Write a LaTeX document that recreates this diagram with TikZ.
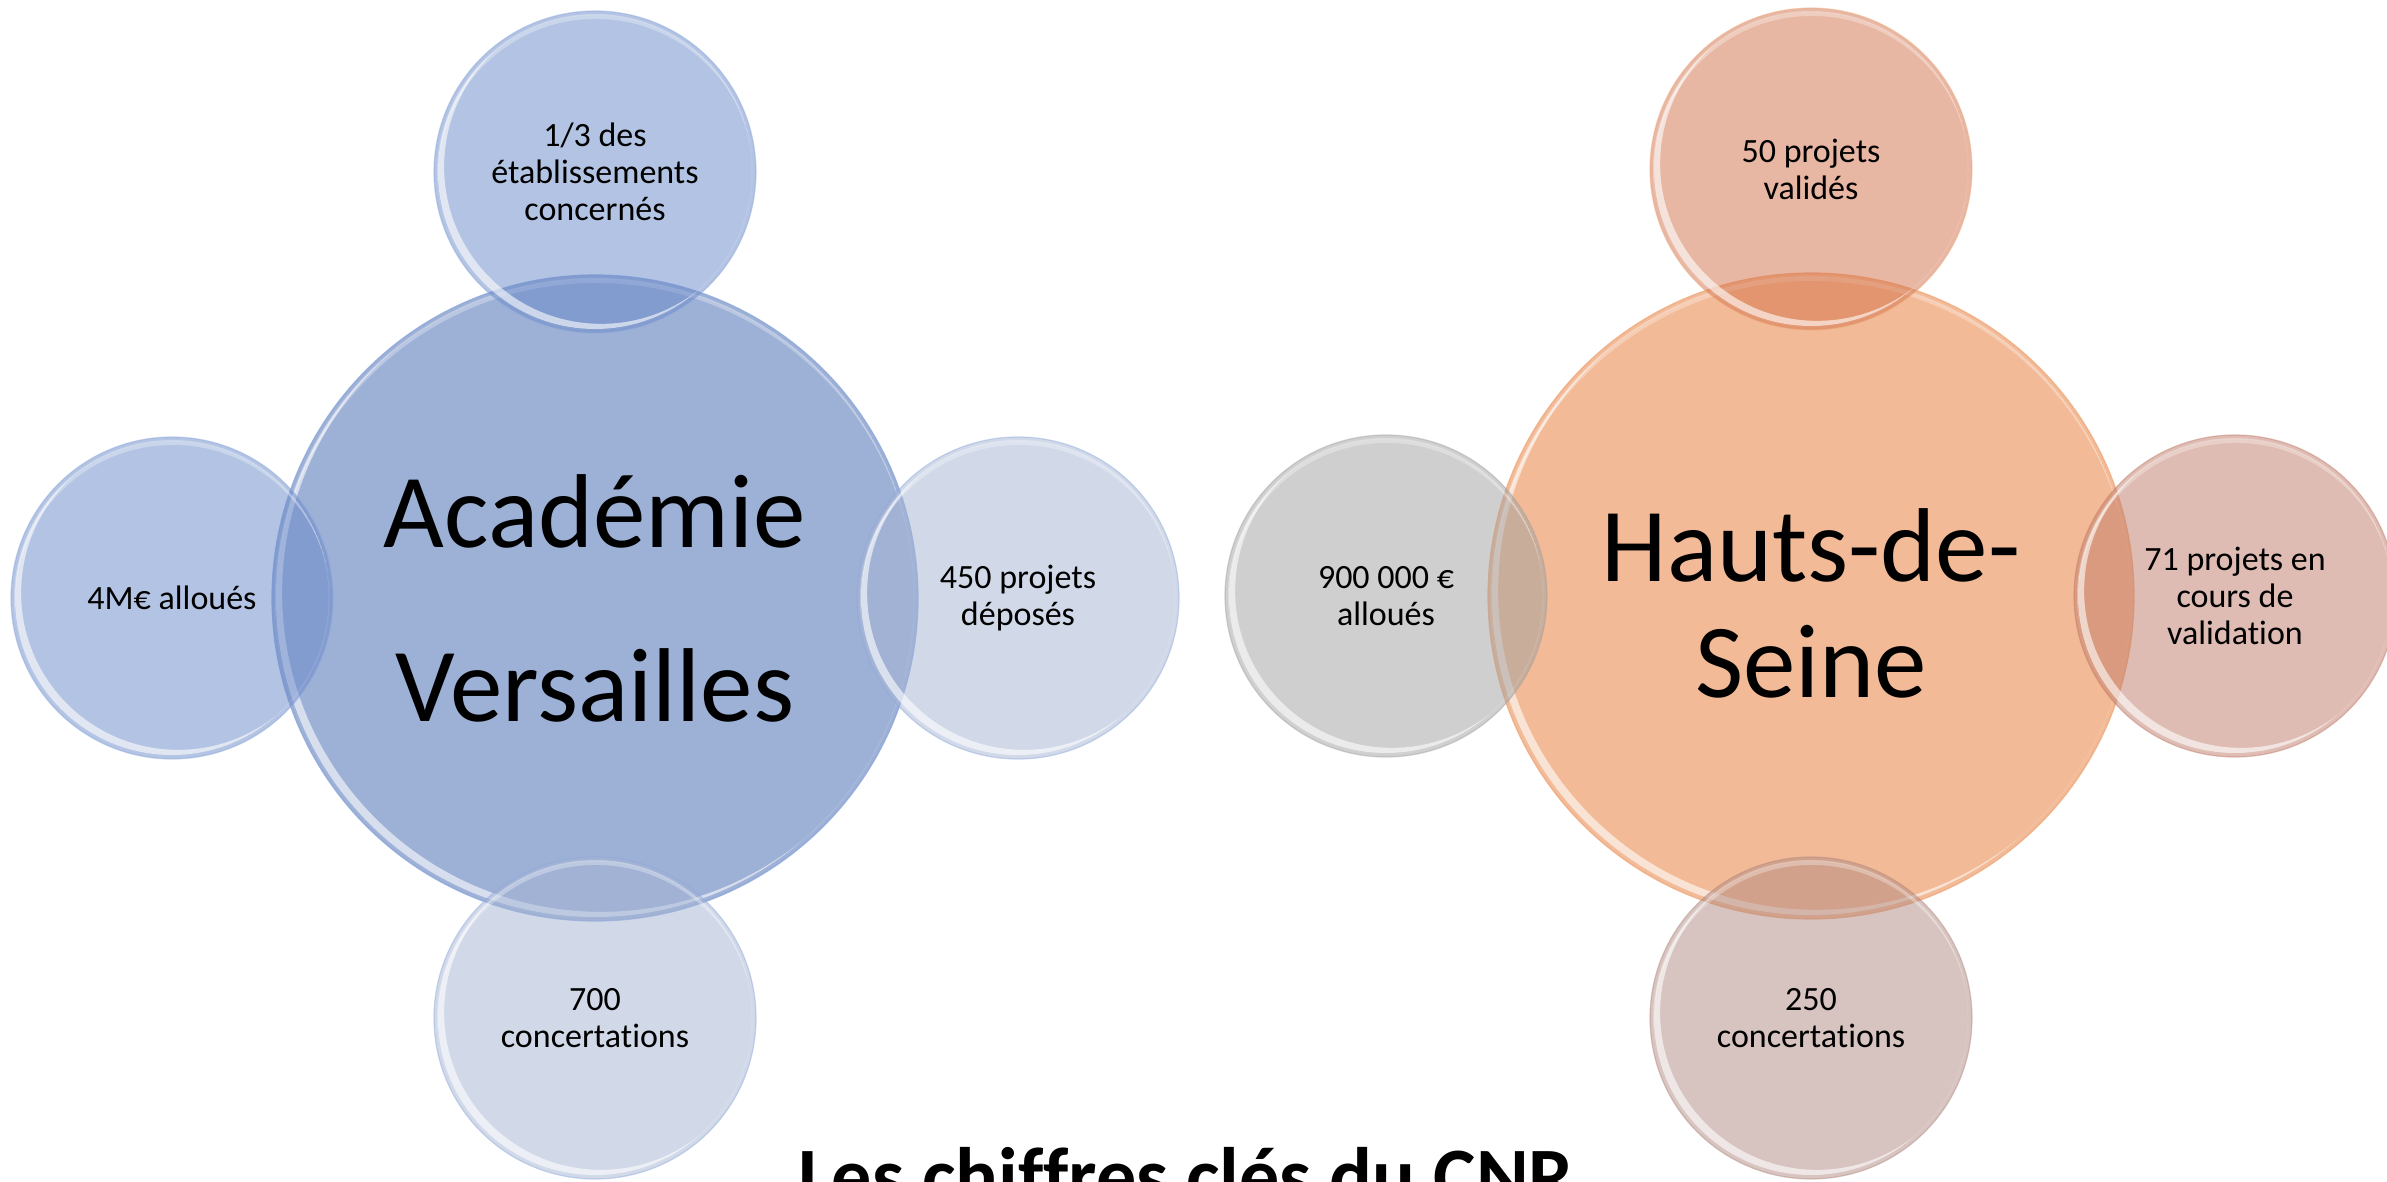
\documentclass[tikz,border=0pt]{standalone}
\usepackage{fontspec}
\setmainfont{Carlito}[Ligatures=NoCommon]
\definecolor{mainA}{RGB}{157,176,214}
\definecolor{satA1}{RGB}{105,137,201}
\definecolor{satA2}{RGB}{165,181,213}
\definecolor{lineA}{RGB}{140,168,220}
\definecolor{mainB}{RGB}{242,186,150}
\definecolor{satB1}{RGB}{211,113,73}
\definecolor{satB2}{RGB}{161,161,161}
\definecolor{satB3}{RGB}{193,123,105}
\definecolor{satB4}{RGB}{177,137,129}
\definecolor{lineB}{RGB}{240,170,125}
\newcommand\glossy[2]{%
  \begin{scope}
    \clip (#1.center) circle[radius=#2-4];
    \fill[white,fill opacity=.6,even odd rule] (#1.center) circle[radius=#2-4] ([shift={(40:8)}]#1.center) circle[radius=#2-4];
  \end{scope}
  \begin{scope}
    \clip (#1.center) circle[radius=#2-3];
    \fill[white,fill opacity=.3,even odd rule] (#1.center) circle[radius=#2-3] ([shift={(-80:5)}]#1.center) circle[radius=#2-3];
  \end{scope}}
\begin{document}
\begin{tikzpicture}[x=1pt,y=1pt,
  hub/.style={circle, minimum size=646pt, inner sep=0pt, align=center,
    font=\fontsize{105}{116}\selectfont, line width=1.2pt, draw opacity=.8},
  sat/.style={circle, minimum size=322pt, inner sep=0pt, align=center,
    font=\fontsize{34}{37}\selectfont, fill opacity=.5, text opacity=1,
    draw opacity=.45, line width=1.2pt},
  titlestyle/.style={font=\fontsize{80}{96}\selectfont\bfseries, anchor=base, inner sep=0pt}]
\useasboundingbox (0,0) rectangle (2387,1181);
\clip (0,0) rectangle (2387,1181);
\fill[white] (0,0) rectangle (2387,1181);

% ---- Académie Versailles ----
\node[hub, fill=mainA, draw=lineA] (va) at (595,583) {Académie\\[58pt]Versailles};
\glossy{va}{323}
\node[sat, fill=satA1, draw=lineA] (vatop) at (595,1009) {1/3 des\\établissements\\concernés};
\glossy{vatop}{161}
\node[sat, fill=satA1, draw=lineA] (valeft) at (172,583) {4M€ alloués};
\glossy{valeft}{161}
\node[sat, fill=satA2, draw=lineA] (varight) at (1018,583) {450 projets\\déposés};
\glossy{varight}{161}
\node[sat, fill=satA2, draw=lineA] (vabot) at (595,163) {700\\concertations};
\glossy{vabot}{161}

% ---- Hauts-de-Seine ----
\node[hub, fill=mainB, draw=lineB] (hs) at (1811,585) {\rule{0pt}{88pt}Hauts-de-\\Seine};
\glossy{hs}{323}
\node[sat, fill=satB1, draw=lineB] (hstop) at (1811,1012) {50 projets\\validés};
\glossy{hstop}{161}
\node[sat, fill=satB2, draw=satB2] (hsleft) at (1386,585) {900~000~€\\alloués};
\glossy{hsleft}{161}
\node[sat, fill=satB3, draw=satB3] (hsright) at (2235,585) {71 projets en\\cours de\\validation};
\glossy{hsright}{161}
\node[sat, fill=satB4, draw=satB4] (hsbot) at (1811,163) {250\\concertations};
\glossy{hsbot}{161}

\node[titlestyle] (title) at (1186,-22) {Les chiffres clés du CNR};
\end{tikzpicture}
\end{document}
